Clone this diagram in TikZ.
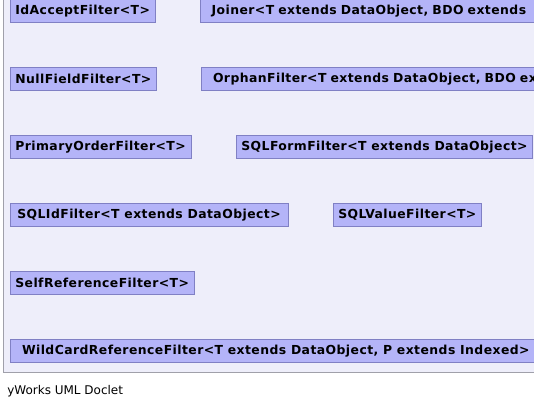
\documentclass[tikz,border=0pt]{standalone}
\usepackage{fontspec}
\setmainfont{DejaVu Sans}
\newfontfamily\classfont[LetterSpace=3.5]{DejaVu Sans}
\usetikzlibrary{positioning}

\definecolor{panelbg}{RGB}{238,238,250}
\definecolor{panelline}{RGB}{160,160,170}
\definecolor{classbg}{RGB}{180,180,248}
\definecolor{classline}{RGB}{128,128,196}

\tikzset{
    classbox/.style={draw=classline, fill=classbg, line width=0.75pt, inner xsep=4pt, inner ysep=2pt,
        outer sep=0pt, minimum height=17.25pt, font=\classfont\fontsize{9.3}{11}\selectfont\bfseries},
    cutbox/.style={classbox, minimum width=300pt, align=left, text width=283pt}
}

\begin{document}
\begin{tikzpicture}[x=0.75pt, y=-0.75pt, node distance=33.75pt and 33.75pt]
    \useasboundingbox (0,0) rectangle (534,409);
    \clip (0,0) rectangle (534,409);
    \draw [panelline, fill=panelbg, line width=0.75pt] (3,-10) rectangle (600,372);
    \node [classbox, anchor=north west] (idaccept) at (10,-0.5) {IdAcceptFilter<T>};
    \node [cutbox, right=of idaccept] (joiner) {Joiner<T extends DataObject, BDO extends};
    \node [classbox, below=of idaccept.south west, anchor=north west] (nullfield) {NullFieldFilter<T>};
    \node [cutbox, right=of nullfield] (orphan) {OrphanFilter<T extends DataObject, BDO ex};
    \node [classbox, below=of nullfield.south west, anchor=north west] (primaryorder) {PrimaryOrderFilter<T>};
    \node [classbox, right=of primaryorder] (sqlform) {SQLFormFilter<T extends DataObject>};
    \node [classbox, below=of primaryorder.south west, anchor=north west, minimum width=208.5pt] (sqlid) {SQLIdFilter<T extends DataObject>};
    \node [classbox, right=of sqlid] (sqlvalue) {SQLValueFilter<T>};
    \node [classbox, below=of sqlid.south west, anchor=north west] (selfref) {SelfReferenceFilter<T>};
    \node [classbox, below=of selfref.south west, anchor=north west, inner xsep=9pt] (wildcard) {WildCardReferenceFilter<T extends DataObject, P extends Indexed>};
    \node [anchor=west, inner sep=0pt, font=\fontsize{9}{11}\selectfont] (doclet) at (7,391) {yWorks UML Doclet};
\end{tikzpicture}
\end{document}
